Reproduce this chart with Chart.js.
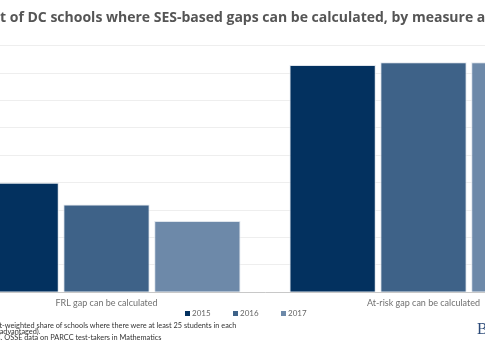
<!DOCTYPE html>
<html>
<head>
<meta charset="utf-8">
<script src="https://cdn.jsdelivr.net/npm/chart.js@4.4.1/dist/chart.umd.min.js"></script>
<style>
  html, body { margin: 0; padding: 0; background: #fff; }
  body { width: 485px; height: 360px; overflow: hidden; position: relative; }
  #wrap { position: absolute; left: -92px; top: 0; width: 674px; height: 313px; }
  #legenda { position: absolute; top: 307px; left: 0; width: 485px; height: 12px; }
  .item { position: absolute; top: 0; font-family: Lato, sans-serif; font-size: 8px; color: #666; line-height: 12px; white-space: nowrap; }
  .item span { display: inline-block; width: 5px; height: 5px; margin-right: 2px; vertical-align: 0px; }
  .nota { position: absolute; font-family: Lato, sans-serif; font-size: 7.35px; color: #333; white-space: nowrap; }
  #logo { position: absolute; left: 477px; top: 320px; font-family: "Liberation Serif", serif; font-size: 16px; color: #2c4a78; letter-spacing: 1px; }
</style>
</head>
<body>
<div id="wrap"><canvas id="grafico_gaps"></canvas></div>
<div id="legenda"></div>
<div class="nota" style="top:321px; left:-43px">Note: Student-weighted share of schools where there were at least 25 students in each</div>
<div class="nota" style="top:327px; left:-47px">group (non-disadvantaged).</div>
<div class="nota" style="top:333px; left:-37px">Source: D.C. OSSE data on PARCC test-takers in Mathematics</div>
<div id="logo">BROOKINGS</div>
<script>
// categorias e valores (% de escolas)
var categorias = ['FRL gap can be calculated', 'At-risk gap can be calculated']
var anos = ['2015', '2016', '2017']
var valores_2015 = [40, 83]
var valores_2016 = [32, 84]
var valores_2017 = [26, 84]
var ticks_y = [0, 10, 20, 30, 40, 50, 60, 70, 80, 90]

var cores = ['#03315f', '#3e6288', '#6d89a9']

var ctx = document.getElementById('grafico_gaps').getContext('2d')

var config = {
    type: 'bar',
    data: {
        labels: categorias,
        datasets: [
            { label: anos[0], data: valores_2015, backgroundColor: cores[0], borderColor: '#dfe5ec', borderWidth: 1 },
            { label: anos[1], data: valores_2016, backgroundColor: cores[1], borderColor: '#dfe5ec', borderWidth: 1 },
            { label: anos[2], data: valores_2017, backgroundColor: cores[2], borderColor: '#dfe5ec', borderWidth: 1 }
        ]
    },
    options: {
        responsive: true,
        maintainAspectRatio: false,
        animation: false,
        layout: { padding: 0 },
        datasets: {
            bar: { categoryPercentage: 0.86, barPercentage: 0.95 }
        },
        scales: {
            x: {
                grid: { display: false, drawTicks: false },
                border: { color: '#c8c8c8', width: 1 },
                ticks: { color: '#707070', font: { family: 'Lato', size: 9 }, padding: 5 }
            },
            y: {
                min: 0,
                max: 90,
                afterBuildTicks: function (axis) {
                    axis.ticks = ticks_y.map(function (v) { return { value: v } })
                },
                afterFit: function (axis) {
                    axis.width = 40 // espaço do eixo Y (fica fora do recorte)
                },
                ticks: { display: false },
                grid: { color: '#eeeeee', drawTicks: false },
                border: { display: false }
            }
        },
        plugins: {
            title: {
                display: true,
                text: 'Percent of DC schools where SES-based gaps can be calculated, by measure and year',
                color: '#555',
                font: { family: 'Open Sans', size: 14, weight: 'bold' },
                padding: { top: 10, bottom: 19 }
            },
            legend: { display: false },
            tooltip: { enabled: false }
        }
    }
}

var grafico_barra = new Chart(ctx, config)

// legenda em HTML (mais compacta que a do Chart.js)
var pos_legenda = [185, 233, 281]
var legenda = document.getElementById('legenda')
anos.forEach(function (ano, i) {
    var item = document.createElement('div')
    item.className = 'item'
    item.style.left = pos_legenda[i] + 'px'
    item.innerHTML = '<span style="background:' + cores[i] + '"></span>' + ano
    legenda.appendChild(item)
})
</script>
</body>
</html>
